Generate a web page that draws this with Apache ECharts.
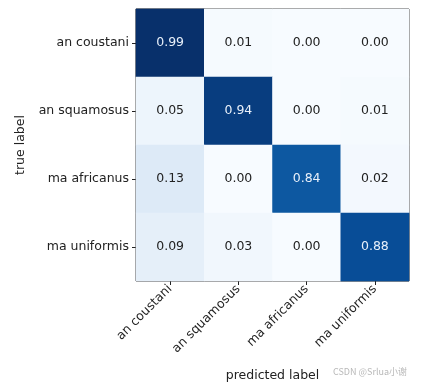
<!DOCTYPE html>
<html><head><meta charset="utf-8">
<script src="https://cdn.jsdelivr.net/npm/echarts@6/dist/echarts.min.js"></script>
<style>html,body{margin:0;padding:0;background:#fff}#c{width:427px;height:385px}</style>
</head><body><div id="c"></div>
<script>
const classes = ['an coustani', 'an squamosus', 'ma africanus', 'ma uniformis'];
const matrix = [
  [0.99, 0.01, 0.00, 0.00],
  [0.05, 0.94, 0.00, 0.01],
  [0.13, 0.00, 0.84, 0.02],
  [0.09, 0.03, 0.00, 0.88]
];
const blues = ['#f7fbff','#deebf7','#c6dbef','#9ecae1','#6baed6','#4292c6','#2171b5','#08519c','#08306b'];
const vmax = 0.99;
const data = [];
matrix.forEach((row, i) => row.forEach((v, j) => {
  data.push({value: [j, i, v], label: {color: v > vmax / 2 ? '#e8f0fa' : '#222'}});
}));
const font = 'DejaVu Sans';
const chart = echarts.init(document.getElementById('c'));
chart.setOption({
  animation: false,
  grid: {left: 136, top: 9, width: 273, height: 272, outerBoundsMode: 'none', containLabel: false,
         show: true, borderColor: '#222', borderWidth: 1, backgroundColor: 'transparent'},
  xAxis: {
    type: 'category', data: classes, position: 'bottom',
    name: 'predicted label', nameLocation: 'middle', nameGap: 88,
    nameTextStyle: {fontFamily: font, fontSize: 12.5, color: '#222'},
    axisLine: {show: false},
    axisTick: {show: true, alignWithLabel: true, length: 4, lineStyle: {color: '#222'}},
    axisLabel: {rotate: 45, fontFamily: font, fontSize: 12.5, color: '#222', margin: 6},
    splitArea: {show: false}
  },
  yAxis: {
    type: 'category', data: classes, inverse: true,
    name: 'true label', nameLocation: 'middle', nameGap: 108,
    nameTextStyle: {fontFamily: font, fontSize: 12.5, color: '#222'},
    axisLine: {show: false},
    axisTick: {show: true, alignWithLabel: true, length: 4, lineStyle: {color: '#222'}},
    axisLabel: {fontFamily: font, fontSize: 12.5, color: '#222', margin: 7},
    splitArea: {show: false}
  },
  visualMap: {show: false, min: 0, max: vmax, dimension: 2, inRange: {color: blues}},
  series: [{
    type: 'heatmap', data: data,
    label: {show: true, fontFamily: font, fontSize: 12.5, formatter: p => p.value[2].toFixed(2)},
    itemStyle: {borderWidth: 0},
    emphasis: {disabled: true}
  }],
  graphic: [{type: 'text', left: 333, top: 367, style: {text: 'CSDN @Srlua小谢', fill: '#b8b8b8', font: '9px "Noto Sans CJK SC"'}}]
});
</script></body></html>
